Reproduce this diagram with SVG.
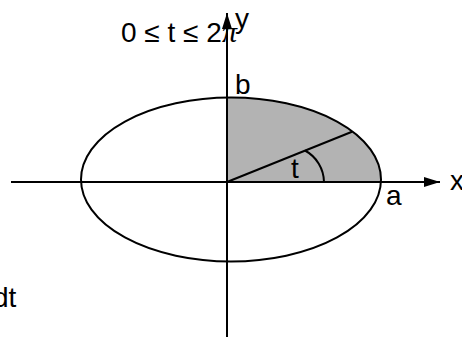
<svg xmlns="http://www.w3.org/2000/svg" width="462" height="337" viewBox="0 0 462 337">
<style>
.ln{fill:none;stroke:#000;stroke-width:2}
.lb{font-family:"Liberation Sans",Arial,sans-serif;font-size:28px;fill:#000}
.pi{font-family:"Liberation Serif","Times New Roman",serif;font-style:italic;font-size:30px;fill:#000}
</style>
<defs>
<marker id="ah" viewBox="0 0 10 10" refX="10" refY="5" markerWidth="16" markerHeight="10" markerUnits="userSpaceOnUse" orient="auto" preserveAspectRatio="none">
<path d="M0,0 L10,5 L0,10 Z" fill="#000"/>
</marker>
</defs>
<rect width="462" height="337" fill="#fff"/>
<g id="region">
<path d="M227,182 L227,97.5 A150,82 0 0 1 380.9,182 Z" fill="#b3b3b3"/>
</g>
<g id="ellipse">
<ellipse class="ln" cx="231" cy="179.5" rx="150" ry="82"/>
</g>
<g id="connectors">
<line class="ln" x1="11" y1="182" x2="440" y2="182" marker-end="url(#ah)"/>
<line class="ln" x1="227" y1="337" x2="227" y2="13" marker-end="url(#ah)"/>
<line class="ln" x1="227" y1="182" x2="352" y2="131.7"/>
<path class="ln" d="M305,150.5 A36.4,36.4 0 0 1 324,182"/>
</g>
<g id="labels">
<text class="lb" x="121" y="42">0 ≤ t ≤ 2</text>
<text class="pi" x="222" y="42">π</text>
<text class="lb" x="235" y="28">y</text>
<text class="lb" x="235" y="94">b</text>
<text class="lb" x="291" y="178">t</text>
<text class="lb" x="386" y="205">a</text>
<text class="lb" x="450" y="190">x</text>
<text class="lb" x="-7" y="307">dt</text>
</g>
</svg>
